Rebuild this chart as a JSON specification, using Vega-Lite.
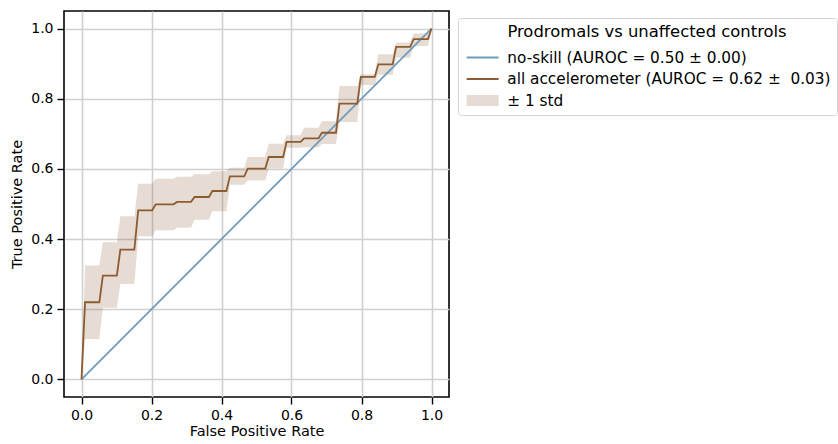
{
  "$schema": "https://vega.github.io/schema/vega-lite/v6.json",
  "width": 385,
  "height": 386,
  "padding": {"left": 9, "top": 11, "right": 5, "bottom": 5},
  "background": "white",
  "config": {
    "font": "DejaVu Sans",
    "view": {"stroke": "black", "strokeWidth": 1.6},
    "axis": {
      "domain": false,
      "grid": true,
      "gridColor": "#d0d0d0",
      "gridWidth": 1.6,
      "tickColor": "black",
      "tickWidth": 1.4,
      "tickSize": 7,
      "labelFont": "DejaVu Sans",
      "labelFontSize": 14,
      "labelColor": "black",
      "labelPadding": 4,
      "titleFont": "DejaVu Sans",
      "titleFontSize": 14.5,
      "titleFontWeight": "normal",
      "titleColor": "black"
    },
    "legend": {
      "titleFont": "DejaVu Sans",
      "labelFont": "DejaVu Sans",
      "titleFontSize": 16.4,
      "labelFontSize": 15.3,
      "titleFontWeight": "normal",
      "titleColor": "black",
      "labelColor": "black",
      "labelLimit": 0,
      "titleLimit": 0
    }
  },
  "datasets": {
    "diag": [
      {"fpr": 0, "tpr": 0, "series": "no-skill (AUROC = 0.50 ± 0.00)"},
      {"fpr": 1, "tpr": 1, "series": "no-skill (AUROC = 0.50 ± 0.00)"}
    ],
    "roc": [
      {"fpr": 0.0, "tpr": 0.0, "lo": 0.0, "hi": 0.0, "series": "all accelerometer (AUROC = 0.62 ±  0.03)"},
      {"fpr": 0.0101, "tpr": 0.22, "lo": 0.115, "hi": 0.325, "series": "all accelerometer (AUROC = 0.62 ±  0.03)"},
      {"fpr": 0.051, "tpr": 0.22, "lo": 0.115, "hi": 0.325, "series": "all accelerometer (AUROC = 0.62 ±  0.03)"},
      {"fpr": 0.061, "tpr": 0.296, "lo": 0.204, "hi": 0.391, "series": "all accelerometer (AUROC = 0.62 ±  0.03)"},
      {"fpr": 0.101, "tpr": 0.296, "lo": 0.204, "hi": 0.391, "series": "all accelerometer (AUROC = 0.62 ±  0.03)"},
      {"fpr": 0.111, "tpr": 0.37, "lo": 0.272, "hi": 0.465, "series": "all accelerometer (AUROC = 0.62 ±  0.03)"},
      {"fpr": 0.151, "tpr": 0.37, "lo": 0.272, "hi": 0.465, "series": "all accelerometer (AUROC = 0.62 ±  0.03)"},
      {"fpr": 0.162, "tpr": 0.482, "lo": 0.408, "hi": 0.558, "series": "all accelerometer (AUROC = 0.62 ±  0.03)"},
      {"fpr": 0.202, "tpr": 0.482, "lo": 0.408, "hi": 0.558, "series": "all accelerometer (AUROC = 0.62 ±  0.03)"},
      {"fpr": 0.212, "tpr": 0.499, "lo": 0.425, "hi": 0.572, "series": "all accelerometer (AUROC = 0.62 ±  0.03)"},
      {"fpr": 0.263, "tpr": 0.499, "lo": 0.425, "hi": 0.572, "series": "all accelerometer (AUROC = 0.62 ±  0.03)"},
      {"fpr": 0.273, "tpr": 0.506, "lo": 0.432, "hi": 0.578, "series": "all accelerometer (AUROC = 0.62 ±  0.03)"},
      {"fpr": 0.313, "tpr": 0.506, "lo": 0.432, "hi": 0.578, "series": "all accelerometer (AUROC = 0.62 ±  0.03)"},
      {"fpr": 0.323, "tpr": 0.52, "lo": 0.455, "hi": 0.585, "series": "all accelerometer (AUROC = 0.62 ±  0.03)"},
      {"fpr": 0.364, "tpr": 0.52, "lo": 0.455, "hi": 0.585, "series": "all accelerometer (AUROC = 0.62 ±  0.03)"},
      {"fpr": 0.374, "tpr": 0.537, "lo": 0.479, "hi": 0.593, "series": "all accelerometer (AUROC = 0.62 ±  0.03)"},
      {"fpr": 0.414, "tpr": 0.537, "lo": 0.479, "hi": 0.593, "series": "all accelerometer (AUROC = 0.62 ±  0.03)"},
      {"fpr": 0.424, "tpr": 0.579, "lo": 0.555, "hi": 0.603, "series": "all accelerometer (AUROC = 0.62 ±  0.03)"},
      {"fpr": 0.465, "tpr": 0.579, "lo": 0.555, "hi": 0.603, "series": "all accelerometer (AUROC = 0.62 ±  0.03)"},
      {"fpr": 0.475, "tpr": 0.601, "lo": 0.567, "hi": 0.634, "series": "all accelerometer (AUROC = 0.62 ±  0.03)"},
      {"fpr": 0.525, "tpr": 0.601, "lo": 0.567, "hi": 0.634, "series": "all accelerometer (AUROC = 0.62 ±  0.03)"},
      {"fpr": 0.535, "tpr": 0.634, "lo": 0.601, "hi": 0.672, "series": "all accelerometer (AUROC = 0.62 ±  0.03)"},
      {"fpr": 0.576, "tpr": 0.634, "lo": 0.601, "hi": 0.672, "series": "all accelerometer (AUROC = 0.62 ±  0.03)"},
      {"fpr": 0.586, "tpr": 0.677, "lo": 0.66, "hi": 0.696, "series": "all accelerometer (AUROC = 0.62 ±  0.03)"},
      {"fpr": 0.626, "tpr": 0.677, "lo": 0.66, "hi": 0.696, "series": "all accelerometer (AUROC = 0.62 ±  0.03)"},
      {"fpr": 0.636, "tpr": 0.687, "lo": 0.662, "hi": 0.717, "series": "all accelerometer (AUROC = 0.62 ±  0.03)"},
      {"fpr": 0.677, "tpr": 0.687, "lo": 0.662, "hi": 0.717, "series": "all accelerometer (AUROC = 0.62 ±  0.03)"},
      {"fpr": 0.687, "tpr": 0.703, "lo": 0.671, "hi": 0.736, "series": "all accelerometer (AUROC = 0.62 ±  0.03)"},
      {"fpr": 0.727, "tpr": 0.703, "lo": 0.671, "hi": 0.736, "series": "all accelerometer (AUROC = 0.62 ±  0.03)"},
      {"fpr": 0.737, "tpr": 0.786, "lo": 0.734, "hi": 0.836, "series": "all accelerometer (AUROC = 0.62 ±  0.03)"},
      {"fpr": 0.788, "tpr": 0.786, "lo": 0.734, "hi": 0.836, "series": "all accelerometer (AUROC = 0.62 ±  0.03)"},
      {"fpr": 0.798, "tpr": 0.862, "lo": 0.839, "hi": 0.87, "series": "all accelerometer (AUROC = 0.62 ±  0.03)"},
      {"fpr": 0.838, "tpr": 0.862, "lo": 0.839, "hi": 0.87, "series": "all accelerometer (AUROC = 0.62 ±  0.03)"},
      {"fpr": 0.848, "tpr": 0.898, "lo": 0.868, "hi": 0.927, "series": "all accelerometer (AUROC = 0.62 ±  0.03)"},
      {"fpr": 0.889, "tpr": 0.898, "lo": 0.868, "hi": 0.927, "series": "all accelerometer (AUROC = 0.62 ±  0.03)"},
      {"fpr": 0.899, "tpr": 0.948, "lo": 0.917, "hi": 0.96, "series": "all accelerometer (AUROC = 0.62 ±  0.03)"},
      {"fpr": 0.939, "tpr": 0.948, "lo": 0.917, "hi": 0.96, "series": "all accelerometer (AUROC = 0.62 ±  0.03)"},
      {"fpr": 0.949, "tpr": 0.97, "lo": 0.95, "hi": 0.986, "series": "all accelerometer (AUROC = 0.62 ±  0.03)"},
      {"fpr": 0.99, "tpr": 0.97, "lo": 0.95, "hi": 0.986, "series": "all accelerometer (AUROC = 0.62 ±  0.03)"},
      {"fpr": 1.0, "tpr": 1.0, "lo": 1.0, "hi": 1.0, "series": "all accelerometer (AUROC = 0.62 ±  0.03)"}
    ]
  },
  "layer": [
    {
      "data": {"name": "roc"},
      "mark": {"type": "area", "interpolate": "linear"},
      "encoding": {
        "x": {
          "field": "fpr", "type": "quantitative",
          "scale": {"domain": [-0.05, 1.05], "nice": false, "zero": false},
          "axis": {"values": [0, 0.2, 0.4, 0.6, 0.8, 1.0], "format": ".1f", "title": "False Positive Rate", "titlePadding": 2}
        },
        "y": {
          "field": "lo", "type": "quantitative",
          "scale": {"domain": [-0.05, 1.05], "nice": false, "zero": false},
          "axis": {"values": [0, 0.2, 0.4, 0.6, 0.8, 1.0], "format": ".1f", "title": "True Positive Rate", "titlePadding": 6}
        },
        "y2": {"field": "hi"},
        "color": {
          "datum": "± 1 std", "type": "nominal",
          "scale": {
            "domain": ["no-skill (AUROC = 0.50 ± 0.00)", "all accelerometer (AUROC = 0.62 ±  0.03)", "± 1 std"],
            "range": ["#6f9bbd", "#8c5c30", "rgba(140,95,55,0.22)"]
          },
          "legend": {
            "title": "Prodromals vs unaffected controls",
            "orient": "none",
            "legendX": 394,
            "legendY": 7,
            "padding": 6,
            "strokeColor": "#d4d4d4",
            "fillColor": "white",
            "cornerRadius": 3,
            "titleAnchor": "middle",
            "titleAlign": "center",
            "titlePadding": 9.5,
            "symbolSize": 100,
            "symbolStrokeWidth": 2,
            "symbolOffset": 11,
            "labelOffset": 17,
            "rowPadding": 5.5,
            "encode": {
              "symbols": {
                "update": {
                  "shape": {"signal": "datum.value === '± 1 std' ? 'M-3.2,-1.1H3.2V1.1H-3.2Z' : 'M-3.2,0H3.2'"},
                  "fill": {"signal": "datum.value === '± 1 std' ? '#e5dcd2' : 'transparent'"},
                  "stroke": {"signal": "datum.value === '± 1 std' ? '#e5dcd2' : (indexof(datum.value, 'no-skill') === 0 ? '#6f9bbd' : '#8c5c30')"},
                  "strokeWidth": {"signal": "datum.value === '± 1 std' ? 0 : 2"},
                  "opacity": {"value": 1}
                }
              },
              "labels": {
                "update": {
                  "text": {"signal": "replace(datum.label, '±  ', '±\u00a0 ')"}
                }
              }
            }
          }
        }
      }
    },
    {
      "data": {"name": "diag"},
      "mark": {"type": "line", "strokeWidth": 1.8},
      "encoding": {
        "x": {"field": "fpr", "type": "quantitative"},
        "y": {"field": "tpr", "type": "quantitative"},
        "color": {"field": "series", "type": "nominal"}
      }
    },
    {
      "data": {"name": "roc"},
      "mark": {"type": "line", "strokeWidth": 1.8},
      "encoding": {
        "x": {"field": "fpr", "type": "quantitative"},
        "y": {"field": "tpr", "type": "quantitative"},
        "color": {"field": "series", "type": "nominal"}
      }
    }
  ]
}
